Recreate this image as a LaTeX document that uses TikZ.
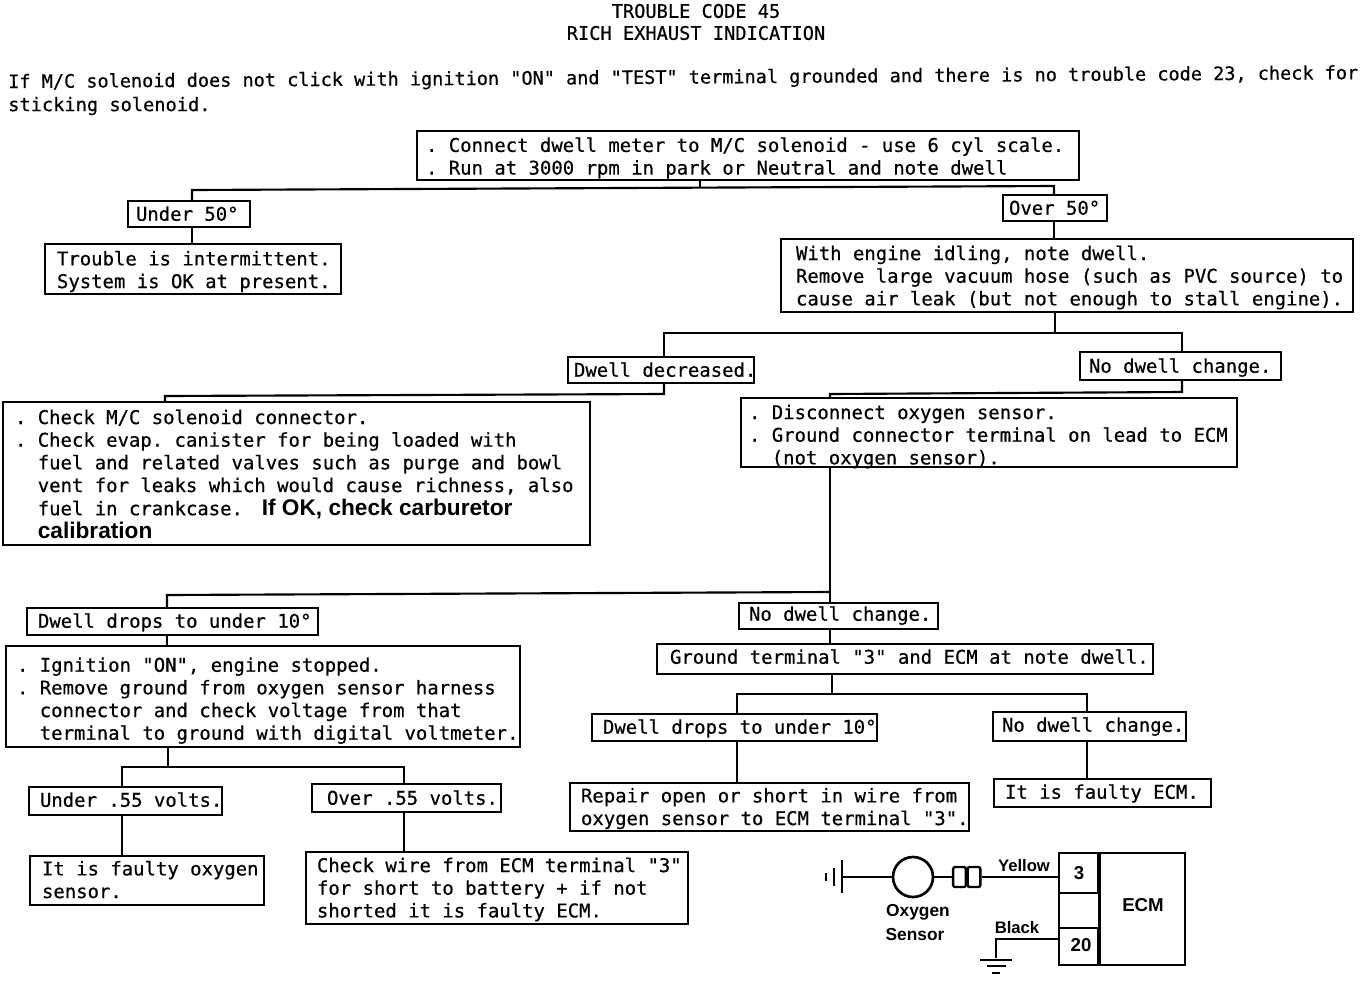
\documentclass[tikz,border=0pt]{standalone}
\usepackage{fontspec}
\setmonofont[FakeBold=0.5]{DejaVu Sans Mono}
\setsansfont{Liberation Sans}
\usetikzlibrary{calc}
\newcommand\bodyfont{\fontsize{14.2pt}{17pt}\selectfont\ttfamily}
\newcommand\bfc[1]{{\sffamily\bfseries\fontsize{17pt}{17pt}\selectfont #1}}
\tikzset{
  x=0.75pt,y=-0.75pt,
  box/.style={draw=black,line width=1.4pt,inner sep=0pt,font=\bodyfont},
  free/.style={inner sep=0pt,font=\fontsize{14pt}{17pt}\selectfont\ttfamily},
  link/.style={draw=black,line width=1.6pt},
  wire/.style={draw=black,line width=2pt},
  lab/.style={inner sep=0pt,font=\sffamily\bfseries\fontsize{12.5pt}{14pt}\selectfont},
  bigl/.style={lab,font=\sffamily\bfseries\fontsize{14pt}{16pt}\selectfont},
  midl/.style={lab,font=\sffamily\bfseries\fontsize{13pt}{14pt}\selectfont},
  conn/.style={draw=black,line width=1.8pt,rounded corners=1.5pt,minimum width=9.5pt,minimum height=15pt,inner sep=0pt},
}
% name x1 y1 x2 y2 inset textcentre text
\newcommand\bx[8]{%
  \pgfmathsetmacro\cxx{(#2+#4)/2}\pgfmathsetmacro\cyy{(#3+#5)/2}%
  \pgfmathsetmacro\www{(#4-#2)*0.75}\pgfmathsetmacro\hhh{(#5-#3)*0.75}%
  \pgfmathsetmacro\ttt{(#4-#2-2*#6)*0.75}%
  \pgfmathsetmacro\rrr{(\cyy-#7)*0.75-5.25}%
  \node[box,minimum width=\www pt,minimum height=\hhh pt] (#1) at (\cxx,\cyy)
    {\makebox[\ttt pt][l]{\raisebox{\rrr pt}[0pt][0pt]{\begin{tabular}[c]{@{}l@{}}#8\end{tabular}}}};}
\begin{document}
\begin{tikzpicture}
\useasboundingbox (0,0) rectangle (1362,992);
\node[free] (t1) at (696,11) {TROUBLE CODE 45};
\node[free] (t2) at (696,33) {RICH EXHAUST INDICATION};
\node[free,anchor=west,rotate=0.38,font=\fontsize{13.9pt}{17pt}\selectfont\ttfamily] (i1) at (8,83) {If M/C solenoid does not click with ignition "ON" and "TEST" terminal grounded and there is no trouble code 23, check for};
\node[free,anchor=west] (i2) at (8,106) {sticking solenoid.};

\bx{top}{417}{131}{1079}{180}{9}{156.5}{. Connect dwell meter to M/C solenoid - use 6 cyl scale.\\. Run at 3000 rpm in park or Neutral and note dwell}
\bx{ua}{128}{201}{250}{227}{8}{214}{Under 50°}
\bx{ub}{1003}{195}{1107}{221}{6}{208}{Over 50°}
\bx{tr}{45}{244}{341}{294}{12}{270}{Trouble is intermittent.\\System is OK at present.}
\bx{we}{781}{239}{1353}{312}{15}{276}{With engine idling, note dwell.\\Remove large vacuum hose (such as PVC source) to\\cause air leak (but not enough to stall engine).}
\bx{dd}{568}{357}{754}{383}{6}{370}{Dwell decreased.}
\bx{nc}{1080}{352}{1281}{380}{9}{366}{No dwell change.}
\bx{cm}{3}{402}{590}{545}{12}{474.5}{. Check M/C solenoid connector.\\. Check evap. canister for being loaded with\\\ \ fuel and related valves such as purge and bowl\\\ \ vent for leaks which would cause richness, also\\\ \ fuel in crankcase.\ \ \hspace{-3pt}\bfc{If OK, check carburetor}\\\ \ \bfc{calibration}}
\bx{dc}{741}{398}{1237}{467}{8}{435}{. Disconnect oxygen sensor.\\. Ground connector terminal on lead to ECM\\\ \ (not oxygen sensor).}
\bx{dl}{27}{608}{318}{635}{11}{621}{Dwell drops to under 10°}
\bx{n2}{739}{603}{938}{629}{10}{614}{No dwell change.}
\bx{gt}{657}{644}{1153}{674}{13}{657}{Ground terminal "3" and ECM at note dwell.}
\bx{ig}{6}{646}{520}{747}{11}{699}{. Ignition "ON", engine stopped.\\. Remove ground from oxygen sensor harness\\\ \ connector and check voltage from that\\\ \ terminal to ground with digital voltmeter.}
\bx{d2}{592}{714}{877}{741}{11}{727}{Dwell drops to under 10°}
\bx{n3}{993}{712}{1186}{741}{9}{725}{No dwell change.}
\bx{us}{29}{787}{222}{815}{11}{800}{Under .55 volts.}
\bx{os}{312}{784}{501}{812}{15}{798}{Over .55 volts.}
\bx{rp}{570}{783}{969}{831}{11}{807}{Repair open or short in wire from\\oxygen sensor to ECM terminal "3".}
\bx{fe}{994}{779}{1211}{807}{11}{792}{It is faulty ECM.}
\bx{fo}{30}{856}{264}{905}{12}{880}{It is faulty oxygen\\sensor.}
\bx{cw}{306}{852}{688}{924}{11}{888}{Check wire from ECM terminal "3"\\for short to battery + if not\\shorted it is faulty ECM.}

% connectors
\coordinate (j1) at (700,188);
\draw[link] (top.south -| j1) -- (j1);
\draw[link] (ua.north -| 192,0) -- (192,190) -- (1054,186) -- (ub.north -| 1054,0);
\draw[link] (ua.south -| 192,0) -- (tr.north -| 192,0);
\draw[link] (ub.south -| 1054,0) -- (we.north -| 1054,0);
\coordinate (j2) at (1055,333);
\draw[link] (we.south -| j2) -- (j2);
\draw[link] (dd.north -| 664,0) -- (664,333) -- (1182,333) -- (nc.north -| 1182,0);
\draw[link] (dd.south -| 664,0) -- (664,394) -- (165,396) -- (cm.north -| 165,0);
\draw[link] (nc.south -| 1182,0) -- (1182,392) -- (830,394) -- (dc.north -| 830,0);
\draw[link] (dc.south -| 830,0) -- (n2.north -| 830,0);
\draw[link] (830,592) -- (167,595) -- (dl.north -| 167,0);
\draw[link] (dl.south -| 167,0) -- (ig.north -| 167,0);
\draw[link] (n2.south -| 830,0) -- (gt.north -| 830,0);
\draw[link] (gt.south -| 832,0) -- (832,694);
\draw[link] (d2.north -| 737,0) -- (737,694) -- (1087,694) -- (n3.north -| 1087,0);
\draw[link] (d2.south -| 737,0) -- (rp.north -| 737,0);
\draw[link] (n3.south -| 1087,0) -- (fe.north -| 1087,0);
\draw[link] (ig.south -| 168,0) -- (168,767);
\draw[link] (us.north -| 122,0) -- (122,767) -- (404,767) -- (os.north -| 404,0);
\draw[link] (us.south -| 122,0) -- (fo.north -| 122,0);
\draw[link] (os.south -| 404,0) -- (cw.north -| 404,0);

% ECM
\node[draw=black,line width=1.8pt,minimum width=94.5pt,minimum height=84pt,inner sep=0pt] (ecm) at (1122,909) {};
\node[bigl] (ecml) at (1143,905) {ECM};
\node[draw=black,line width=1.8pt,minimum width=29.25pt,minimum height=30pt,inner sep=0pt] (p3) at (1078.5,873) {};
\node[draw=black,line width=1.8pt,minimum width=29.25pt,minimum height=27.75pt,inner sep=0pt] (p20) at (1078.5,946.5) {};
\node[bigl] (l3) at (1079,873) {3};
\node[bigl] (l20) at (1081,945) {20};
\draw[wire] (p3.north east) -- (p20.south east);
\node[draw=black,circle,line width=2pt,minimum size=30pt,inner sep=0pt] (sn) at (913,877) {};
\node[conn] (c1) at (959.5,877) {};
\node[conn] (c2) at (974,877) {};
\coordinate (g1) at (842,877);
\draw[wire] (g1) -- (sn);
\draw[wire] (842,860) -- (842,893);
\draw[wire] (834,868) -- (834,886);
\draw[wire] (826,873) -- (826,881);
\draw[wire] (sn) -- (c1);
\draw[wire] (c2) -- (p3.west |- c2);
\coordinate (g2) at (996,958);
\draw[link] (p20.west |- 0,939) -- (996,939) -- (g2);
\draw[wire] (980,960) -- (1012,960);
\draw[wire] (987,966) -- (1006,966);
\draw[wire] (992,973) -- (1000,973);
\node[lab] (yl) at (1024,866) {Yellow};
\node[lab] (bl) at (1017,928) {Black};
\node[midl] (ox) at (918,912) {Oxygen};
\node[midl] (se) at (915,935) {Sensor};
\end{tikzpicture}
\end{document}
